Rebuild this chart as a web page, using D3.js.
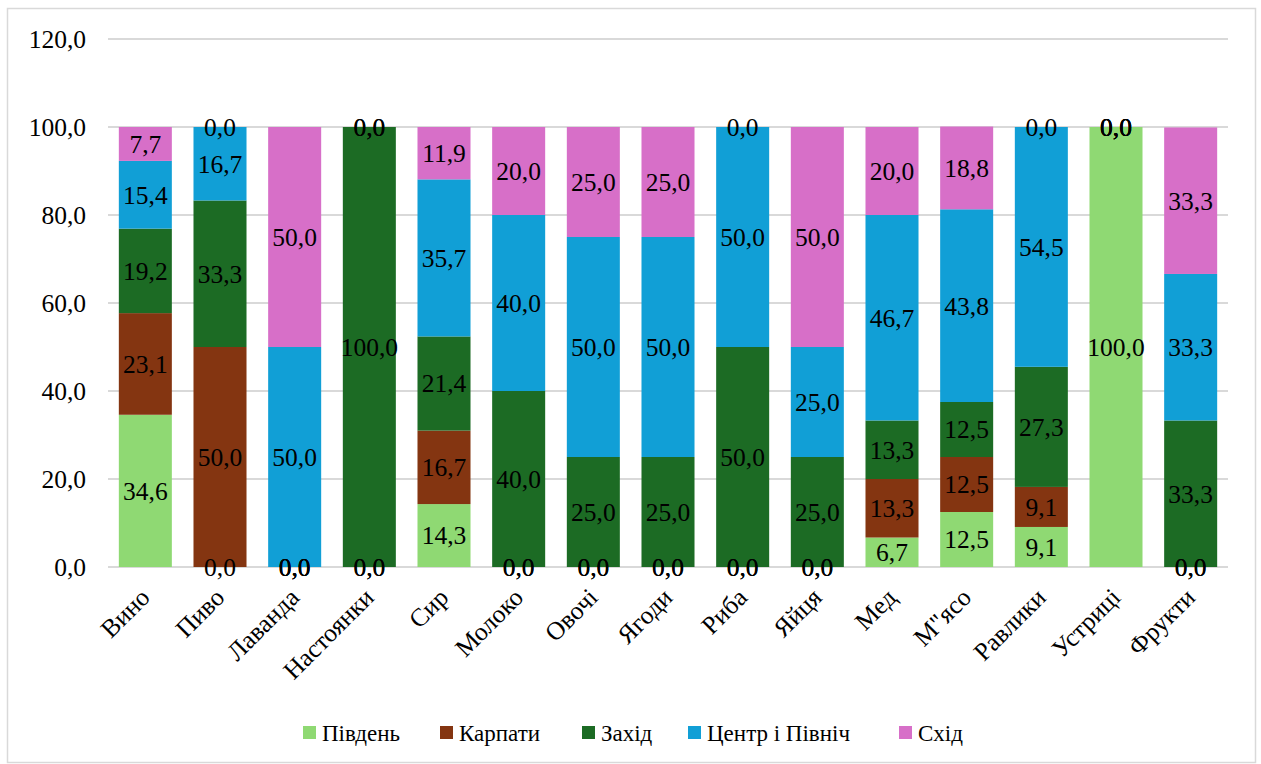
<!DOCTYPE html>
<html>
<head>
<meta charset="utf-8">
<script src="https://cdn.jsdelivr.net/npm/d3@7"></script>
</head>
<body style="margin:0">
<svg id="chart" width="1261" height="764" style="font-family: 'Times New Roman', Tinos, 'Liberation Serif', serif"></svg>
<script>
// Product categories along the x axis
const categories = ["Вино", "Пиво", "Лаванда", "Настоянки", "Сир", "Молоко", "Овочі", "Ягоди",
  "Риба", "Яйця", "Мед", "М\"ясо", "Равлики", "Устриці", "Фрукти"];

// Regions (stack order, bottom to top)
const seriesNames = ["Південь", "Карпати", "Захід", "Центр і Північ", "Схід"];
const seriesColors = ["#8fd973", "#843511", "#1c6b24", "#119fd6", "#d76fc8"];

// Share of each region per category, %
const south   = [34.6, 0,    0,  0,   14.3, 0,  0,  0,  0,  0,  6.7,  12.5, 9.1,  100, 0];
const carpath = [23.1, 50.0, 0,  0,   16.7, 0,  0,  0,  0,  0,  13.3, 12.5, 9.1,  0,   0];
const west    = [19.2, 33.3, 0,  100, 21.4, 40, 25, 25, 50, 25, 13.3, 12.5, 27.3, 0,   33.3];
const centre  = [15.4, 16.7, 50, 0,   35.7, 40, 50, 50, 50, 25, 46.7, 43.8, 54.5, 0,   33.3];
const east    = [7.7,  0,    50, 0,   11.9, 20, 25, 25, 0,  50, 20.0, 18.8, 0,    0,   33.3];

const yTicks = [0, 20, 40, 60, 80, 100, 120];

const seriesValues = [south, carpath, west, centre, east];
const rows = categories.map((c, i) => {
  const r = { category: c };
  seriesNames.forEach((s, k) => { r[s] = seriesValues[k][i]; });
  return r;
});

const svg = d3.select("#chart");
const W = 1261, H = 764;
const margin = { left: 108, right: 33, top: 39, bottom: 197 };

// serif text helper
function serif(sel, size) {
  return sel.style("font", `${size}px "Times New Roman", Tinos, "Liberation Serif", serif`);
}

// outer frame
svg.append("rect")
  .attr("x", 7.5).attr("y", 8.5)
  .attr("width", 1248).attr("height", 754)
  .attr("fill", "#fff").attr("stroke", "#d9d9d9").attr("stroke-width", 1.5);

const x = d3.scaleBand()
  .domain(categories)
  .range([margin.left, W - margin.right])
  .paddingInner(0.29).paddingOuter(0.145);

const y = d3.scaleLinear().domain([0, 120]).range([H - margin.bottom, margin.top]);

const fmt = v => d3.format(".1f")(v).replace(".", ",");

// gridlines
svg.append("g").selectAll("line").data(yTicks).join("line")
  .attr("x1", margin.left).attr("x2", W - margin.right)
  .attr("y1", d => y(d)).attr("y2", d => y(d))
  .attr("stroke", "#d9d9d9").attr("stroke-width", 2);

// y axis labels
const yAxis = d3.axisLeft(y).tickValues(yTicks).tickFormat(fmt).tickSize(0).tickPadding(0);
const yg = svg.append("g").attr("transform", `translate(${margin.left - 22},0)`).call(yAxis);
yg.attr("font-family", null).attr("font-size", null);
yg.select(".domain").remove();
serif(yg.selectAll("text"), 25.5).attr("fill", "#000");

// stacked bars
const stack = d3.stack().keys(seriesNames);
const layers = stack(rows);

const gBars = svg.append("g");
layers.forEach((layer, k) => {
  gBars.append("g").attr("fill", seriesColors[k])
    .selectAll("rect").data(layer).join("rect")
    .attr("x", d => x(d.data.category))
    .attr("width", x.bandwidth())
    .attr("y", d => y(d[1]))
    .attr("height", d => y(d[0]) - y(d[1]));
});

// data labels, centred in each segment
const gLabels = svg.append("g");
layers.forEach((layer, k) => {
  serif(gLabels.append("g").selectAll("text").data(layer).join("text"), 25.5)
    .attr("x", d => x(d.data.category) + x.bandwidth() / 2)
    .attr("y", d => y((d[0] + d[1]) / 2))
    .attr("dy", "0.35em")
    .attr("text-anchor", "middle")
    .text(d => fmt(d.data[layer.key]));
});

// x axis labels, rotated
const xAxis = d3.axisBottom(x).tickSize(0).tickPadding(0);
const xg = svg.append("g").attr("transform", `translate(0,${y(0)})`).call(xAxis);
xg.attr("font-family", null).attr("font-size", null);
xg.select(".domain").remove();
serif(xg.selectAll("text"), 25.5)
  .attr("fill", "#000")
  .attr("text-anchor", "end")
  .attr("dy", null)
  .attr("transform", "translate(6,32) rotate(-45)");

// legend
const legendX = [303, 440, 582, 688, 899];
const lg = svg.append("g");
seriesNames.forEach((s, k) => {
  const g = lg.append("g").attr("transform", `translate(${legendX[k]},733)`);
  g.append("rect").attr("x", 0).attr("y", -7).attr("width", 13).attr("height", 13).attr("fill", seriesColors[k]);
  serif(g.append("text"), 23).attr("x", 19).attr("y", 0).attr("dy", "0.35em").text(s);
});
</script>
</body>
</html>
